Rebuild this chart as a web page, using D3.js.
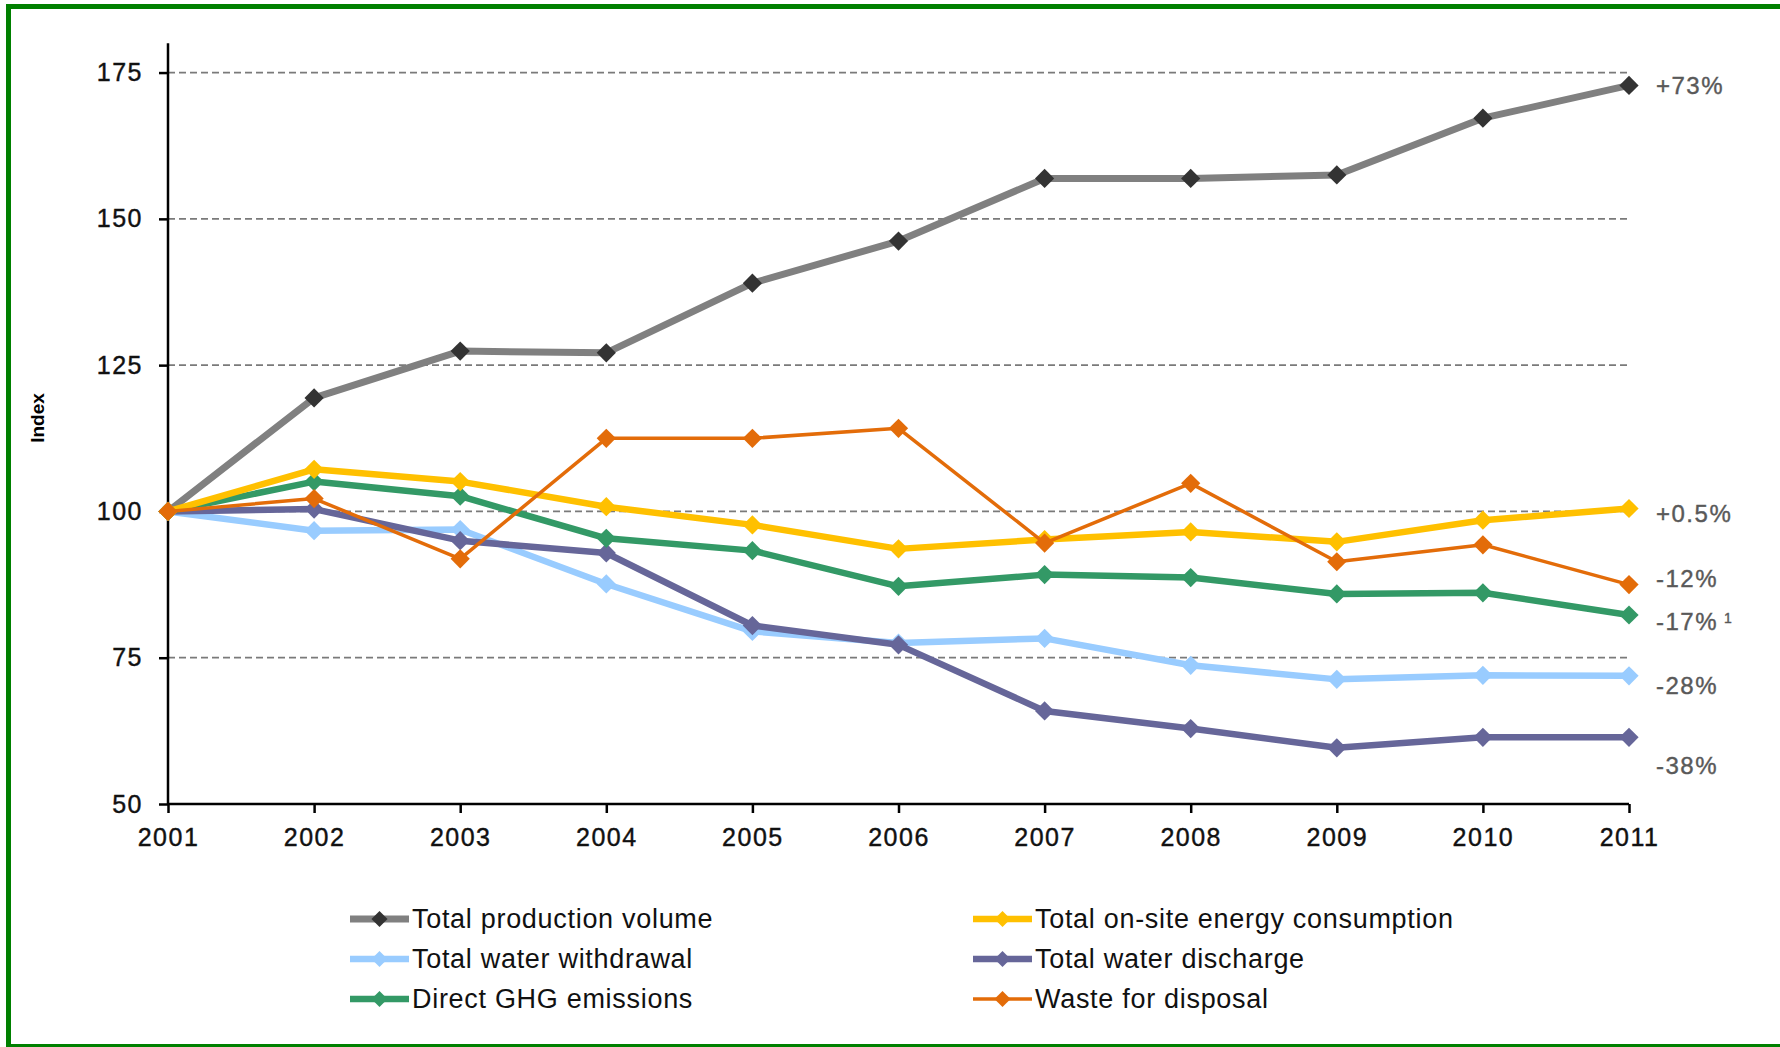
<!DOCTYPE html>
<html>
<head>
<meta charset="utf-8">
<script src="https://cdn.jsdelivr.net/npm/d3@7"></script>
<style>
  html, body { margin: 0; padding: 0; background: #fff; }
  svg { display: block; }
  text { font-family: "Liberation Sans", Arial, sans-serif; }
</style>
</head>
<body>
<svg id="chart" width="1780" height="1047"></svg>
<script>
// ---- data ----
const years = [2001, 2002, 2003, 2004, 2005, 2006, 2007, 2008, 2009, 2010, 2011];
const yTicks = [50, 75, 100, 125, 150, 175];
const seriesNames = [
  "Total production volume",
  "Total on-site energy consumption",
  "Total water withdrawal",
  "Total water discharge",
  "Direct GHG emissions",
  "Waste for disposal"
];
const productionVolume   = [100, 119.4, 127.4, 127.1, 139.0, 146.2, 156.9, 156.9, 157.5, 167.2, 172.8];
const energyConsumption  = [100, 107.2, 105.1, 100.8, 97.7, 93.6, 95.2, 96.5, 94.8, 98.5, 100.5];
const waterWithdrawal    = [100, 96.7, 96.9, 87.6, 79.5, 77.5, 78.3, 73.7, 71.3, 72.0, 71.9];
const waterDischarge     = [100, 100.4, 95.0, 92.9, 80.5, 77.2, 65.9, 62.9, 59.6, 61.4, 61.4];
const ghgEmissions       = [100, 105.1, 102.6, 95.4, 93.3, 87.2, 89.2, 88.7, 85.9, 86.1, 82.3];
const wasteForDisposal   = [100, 102.2, 91.9, 112.5, 112.5, 114.2, 94.6, 104.8, 91.4, 94.3, 87.5];
const endLabels = ["+73%", "+0.5%", "-12%", "-17%", "-28%", "-38%"];
const endLabelAt = [172.7, 99.7, 88.6, 81.1, 70.3, 56.5];
const endLabelNote = ["", "", "", "1", "", ""];

// ---- styles ----
const seriesValues = [productionVolume, energyConsumption, waterWithdrawal, waterDischarge, ghgEmissions, wasteForDisposal];
const lineColors   = ["#808080", "#FFC000", "#99CCFF", "#666699", "#339966", "#E36C09"];
const markerColors = ["#333333", "#FFC000", "#99CCFF", "#666699", "#339966", "#E36C09"];
const lineWidths   = [7, 6.5, 6.5, 6.5, 6.5, 3.5];
const drawOrder    = [0, 2, 3, 4, 1, 5];

const svg = d3.select("#chart");

// green frame
svg.append("rect").attr("x", 8.5).attr("y", 6.5).attr("width", 1790).attr("height", 1040)
  .attr("fill", "none").attr("stroke", "#008000").attr("stroke-width", 5);

const x = d3.scaleLinear().domain([2001, 2011]).range([168, 1629]);
const y = d3.scaleLinear().domain([50, 180]).range([804, 43.3]);

// grid
svg.append("g").selectAll("line").data(yTicks.filter(t => t > 50)).join("line")
  .attr("x1", x(2001)).attr("x2", x(2011))
  .attr("y1", d => y(d)).attr("y2", d => y(d))
  .attr("stroke", "#7a7a7a").attr("stroke-width", 1.8).attr("stroke-dasharray", "7,4");

// axes
const yAxis = svg.append("g").attr("transform", `translate(${x(2001)},0)`)
  .call(d3.axisLeft(y).tickValues(yTicks).tickSize(9).tickSizeOuter(0).tickPadding(16));
const xAxis = svg.append("g").attr("transform", `translate(0,${y(50)})`)
  .call(d3.axisBottom(x).tickValues(years).tickFormat(d3.format("d")).tickSize(9).tickSizeOuter(0).tickPadding(15));
[yAxis, xAxis].forEach(a => {
  a.select(".domain").attr("stroke", "#000").attr("stroke-width", 2.5);
  a.selectAll(".tick line").attr("stroke", "#000").attr("stroke-width", 2.5);
  a.selectAll(".tick text").attr("fill", "#111").attr("stroke", "#111").attr("stroke-width", 0.4)
    .style("font-size", "25px").style("letter-spacing", "1.5px");
});
xAxis.select(".domain").attr("d", `M${x(2001)},0H${x(2011)}`);
yAxis.select(".domain").attr("d", `M0,${y(50)}V${y(180)}`);

// y title
svg.append("text").attr("transform", "translate(44,418) rotate(-90)")
  .attr("text-anchor", "middle").attr("font-weight", "bold").style("font-size", "19px")
  .attr("fill", "#000").text("Index");

// lines
const line = d3.line().x((d, i) => x(years[i])).y(d => y(d));
const diamond = d3.symbol().type(d3.symbolSquare).size(185);
drawOrder.forEach(k => {
  const g = svg.append("g");
  g.append("path").datum(seriesValues[k]).attr("d", line)
    .attr("fill", "none").attr("stroke", lineColors[k]).attr("stroke-width", lineWidths[k])
    .attr("stroke-linejoin", "round");
  g.selectAll("path.m").data(seriesValues[k]).join("path").attr("class", "m")
    .attr("d", diamond)
    .attr("transform", (d, i) => `translate(${x(years[i])},${y(d)}) rotate(45)`)
    .attr("fill", markerColors[k]);
});

// end labels
endLabels.forEach((t, i) => {
  const tx = svg.append("text").attr("x", 1656).attr("y", y(endLabelAt[i]))
    .attr("dy", "0.35em").attr("fill", "#595959").attr("stroke", "#595959").attr("stroke-width", 0.4)
    .style("font-size", "24px").style("letter-spacing", "1.5px").text(t);
  if (endLabelNote[i]) {
    tx.append("tspan").attr("dx", 6).attr("dy", "-0.5em").style("font-size", "14px").style("letter-spacing", "0px").text(endLabelNote[i]);
  }
});

// legend
const legX = [350, 973];
const legY = [919, 959, 999];
seriesNames.forEach((name, k) => {
  const col = k % 2, row = Math.floor(k / 2);
  const g = svg.append("g").attr("transform", `translate(${legX[col]},${legY[row]})`);
  g.append("line").attr("x1", 0).attr("x2", 59).attr("y1", 0).attr("y2", 0)
    .attr("stroke", lineColors[k]).attr("stroke-width", lineWidths[k]);
  g.append("path").attr("d", d3.symbol().type(d3.symbolSquare).size(130)())
    .attr("transform", "translate(29.5,0) rotate(45)").attr("fill", markerColors[k]);
  g.append("text").attr("x", 62).attr("y", 0).attr("dy", "0.35em").attr("fill", "#111")
    .style("font-size", "27px").style("letter-spacing", "0.7px").text(name);
});
</script>
</body>
</html>
